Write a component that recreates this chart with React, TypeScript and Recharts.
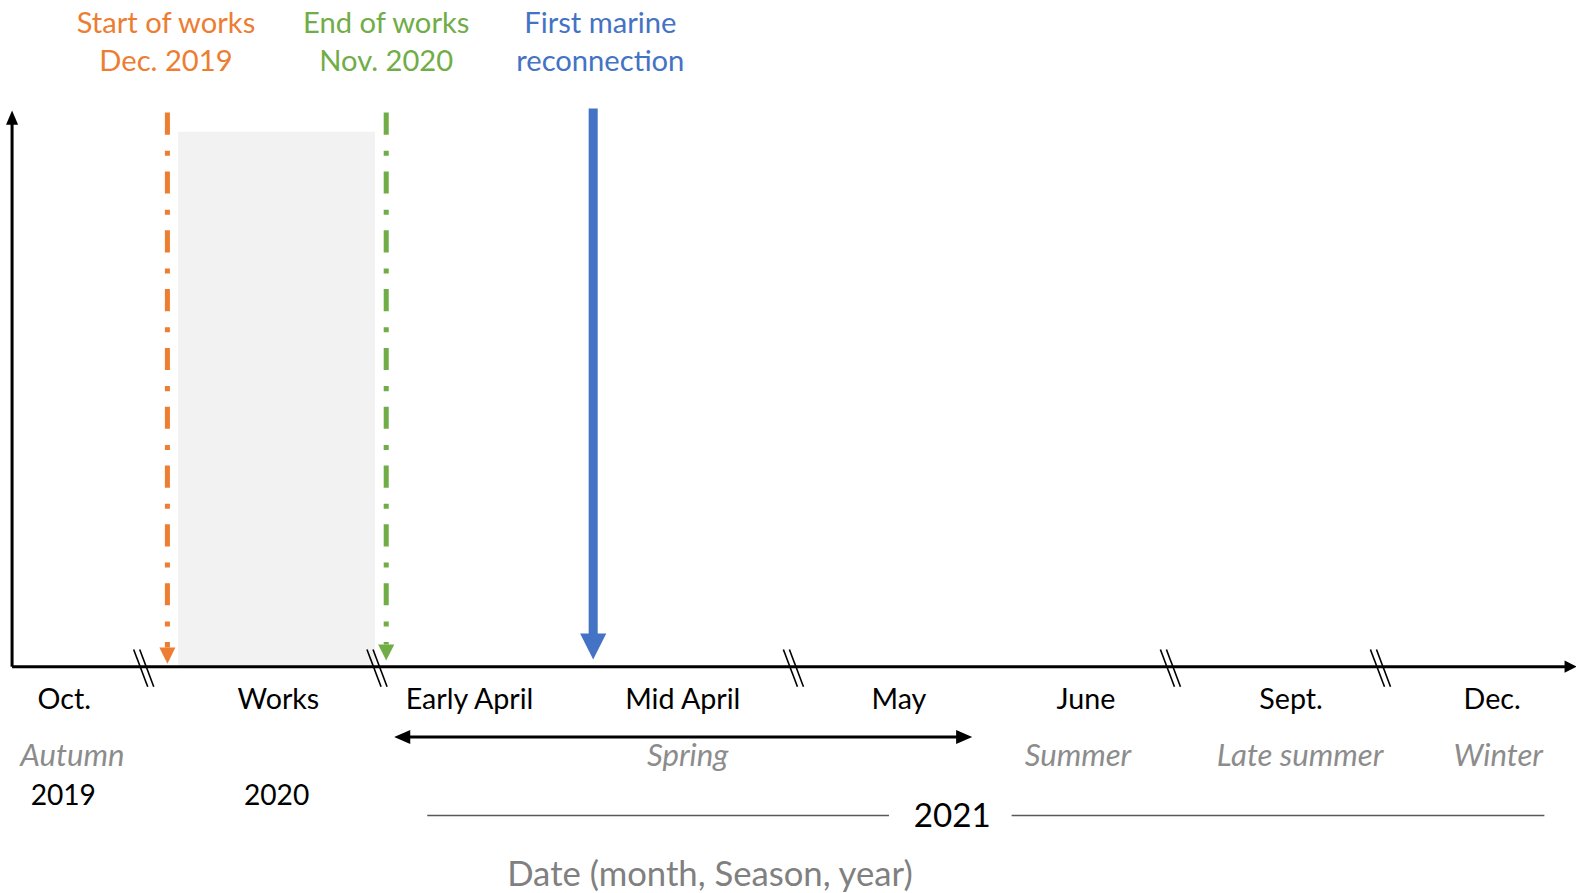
import React from 'react';
import {
  ComposedChart,
  XAxis,
  YAxis,
  ReferenceLine,
  ReferenceArea,
  ReferenceDot,
  Scatter,
} from 'recharts';

if (typeof document !== 'undefined') {
  document.body.style.margin = '0';
  document.body.style.overflow = 'hidden';
}

const W = 1576;
const H = 893;
const FIT = 1.0055;
const FONT = 'Lato, "Noto Sans", sans-serif';

// timeline categories (x in period units)
const monthLabels = ['Oct.', 'Works', 'Early April', 'Mid April', 'May', 'June', 'Sept.', 'Dec.'];
const monthPos = [0.256, 1.305, 2.241, 3.286, 4.345, 5.261, 6.266, 7.251];

const seasonLabels = ['Autumn', 'Spring', 'Summer', 'Late summer', 'Winter'];
const seasonPos = [0.296, 3.31, 5.222, 6.31, 7.281];

const yearLabels = ['2019', '2020'];
const yearPos = [0.251, 1.296];
const year2021Label = '2021';
const year2021Pos = 4.606;
const year2021Lines = [
  [2.034, 4.296],
  [4.897, 7.507],
];

const eventTitles = ['Start of works', 'End of works', 'First marine'];
const eventSubtitles = ['Dec. 2019', 'Nov. 2020', 'reconnection'];
const eventPos = [0.761, 1.833, 2.847];
const eventLabelPos = [0.754, 1.833, 2.882];
const eventColors = ['#ED7D31', '#70AD47', '#4472C4'];

const worksPeriod = [0.813, 1.778];
const breakPos = [0.645, 1.788, 3.828, 5.675, 6.704];
const springRange = [1.872, 4.704];
const axisTitle = 'Date (month, Season, year)';
const axisTitlePos = 3.419;

const X_DOMAIN = [0, 7.665];
const Y_DOMAIN = [-9, 26];

// vertical rows (y units)
const rowTitle1 = 25.68;
const rowTitle2 = 24.16;
const rowAxisTop = 22.12;
const rowEventTop = 22.04;
const rowBlueTop = 22.2;
const rowShadeTop = 21.28;
const rowArrowTips = [0.12, 0.24, 0.28];
const rowMonth = -1.24;
const rowSpring = -2.8;
const rowSeason = -3.48;
const rowYear = -5.08;
const row2021 = -5.88;
const row2021Line = -5.92;
const rowAxisTitle = -8.2;

const monthData = monthLabels.map((label, i) => ({ x: monthPos[i], y: rowMonth, label }));
const seasonData = seasonLabels.map((label, i) => ({ x: seasonPos[i], y: rowSeason, label }));
const yearData = yearLabels.map((label, i) => ({ x: yearPos[i], y: rowYear, label }));

const makeTextShape = (fill: string, size: number, italic = false) => (props: any) => {
  const { cx, cy, payload } = props;
  return (
    <text
      x={cx}
      y={cy}
      textAnchor="middle"
      dominantBaseline="central"
      fill={fill}
      fontSize={size}
      fontStyle={italic ? 'italic' : 'normal'}
      fontFamily={FONT}
    >
      {payload.label}
    </text>
  );
};

const textDot = (label: string, fill: string, size: number) => (props: any) => {
  const { cx, cy } = props;
  return (
    <text
      x={cx}
      y={cy}
      textAnchor="middle"
      dominantBaseline="central"
      fill={fill}
      fontSize={size}
      fontFamily={FONT}
    >
      {label}
    </text>
  );
};

const breakShape = (props: any) => {
  const { cx, cy } = props;
  return (
    <g stroke="#000" strokeWidth={1.6}>
      <line x1={cx - 10} y1={cy - 17} x2={cx + 4} y2={cy + 20} />
      <line x1={cx - 4} y1={cy - 17} x2={cx + 10} y2={cy + 20} />
    </g>
  );
};

const xAxisShape = (props: any) => {
  const { x1, y1, x2, y2 } = props;
  return (
    <g>
      <line x1={x1} y1={y1} x2={x2 - 6} y2={y2} stroke="#000" strokeWidth={3} />
      <polygon points={`${x2},${y2} ${x2 - 12},${y2 - 6} ${x2 - 12},${y2 + 6}`} fill="#000" />
    </g>
  );
};

const yAxisShape = (props: any) => {
  const { x1, y1, x2, y2 } = props;
  const top = Math.min(y1, y2);
  const bottom = Math.max(y1, y2);
  return (
    <g>
      <line x1={x1} y1={bottom} x2={x2} y2={top + 10} stroke="#000" strokeWidth={3} />
      <polygon points={`${x1},${top} ${x1 - 6},${top + 14} ${x1 + 6},${top + 14}`} fill="#000" />
    </g>
  );
};

const dashedArrowShape = (color: string) => (props: any) => {
  const { x1, y1, x2, y2 } = props;
  const top = Math.min(y1, y2);
  const tip = Math.max(y1, y2);
  const head = 16;
  return (
    <g>
      <line
        x1={x1}
        y1={top}
        x2={x2}
        y2={tip - head}
        stroke={color}
        strokeWidth={5}
        strokeDasharray="22 16 5 15.5"
      />
      <polygon
        points={`${x1},${tip} ${x1 - 8},${tip - head} ${x1 + 8},${tip - head}`}
        fill={color}
      />
    </g>
  );
};

const solidArrowShape = (color: string) => (props: any) => {
  const { x1, y1, x2, y2 } = props;
  const top = Math.min(y1, y2);
  const tip = Math.max(y1, y2);
  const head = 26;
  return (
    <g>
      <line x1={x1} y1={top} x2={x2} y2={tip - head + 2} stroke={color} strokeWidth={9} />
      <polygon
        points={`${x1},${tip} ${x1 - 13},${tip - head} ${x1 + 13},${tip - head}`}
        fill={color}
      />
    </g>
  );
};

const springShape = (props: any) => {
  const { x1, y1, x2 } = props;
  const y = y1;
  const a = Math.min(x1, x2);
  const b = Math.max(x1, x2);
  return (
    <g>
      <line x1={a + 10} y1={y} x2={b - 10} y2={y} stroke="#000" strokeWidth={3} />
      <polygon points={`${a},${y} ${a + 16},${y - 7} ${a + 16},${y + 7}`} fill="#000" />
      <polygon points={`${b},${y} ${b - 16},${y - 7} ${b - 16},${y + 7}`} fill="#000" />
    </g>
  );
};

export default function App() {
  return (
    <div
      style={{
        width: W,
        height: H,
        overflow: 'hidden',
        background: '#fff',
        transform: `scale(${FIT})`,
        transformOrigin: '0 0',
      }}
    >
      <ComposedChart
        width={W}
        height={H}
        data={monthData}
        margin={{ top: 13, right: 8, bottom: 5, left: 12 }}
      >
        <XAxis type="number" dataKey="x" domain={X_DOMAIN} hide allowDataOverflow />
        <YAxis type="number" dataKey="y" domain={Y_DOMAIN} hide allowDataOverflow width={0} />

        <ReferenceArea
          x1={worksPeriod[0]}
          x2={worksPeriod[1]}
          y1={0}
          y2={rowShadeTop}
          fill="#F2F2F2"
          fillOpacity={1}
          stroke="none"
        />

        {/* axes */}
        <ReferenceLine
          segment={[
            { x: X_DOMAIN[0], y: 0 },
            { x: X_DOMAIN[1], y: 0 },
          ]}
          shape={xAxisShape}
        />
        <ReferenceLine
          segment={[
            { x: X_DOMAIN[0], y: 0 },
            { x: X_DOMAIN[0], y: rowAxisTop },
          ]}
          shape={yAxisShape}
        />

        {/* events */}
        <ReferenceLine
          segment={[
            { x: eventPos[0], y: rowEventTop },
            { x: eventPos[0], y: rowArrowTips[0] },
          ]}
          shape={dashedArrowShape(eventColors[0])}
        />
        <ReferenceLine
          segment={[
            { x: eventPos[1], y: rowEventTop },
            { x: eventPos[1], y: rowArrowTips[1] },
          ]}
          shape={dashedArrowShape(eventColors[1])}
        />
        <ReferenceLine
          segment={[
            { x: eventPos[2], y: rowBlueTop },
            { x: eventPos[2], y: rowArrowTips[2] },
          ]}
          shape={solidArrowShape(eventColors[2])}
        />

        {eventTitles.map((t, i) => (
          <ReferenceDot
            key={'et' + i}
            x={eventLabelPos[i]}
            y={rowTitle1}
            r={0}
            shape={textDot(t, eventColors[i], 29)}
          />
        ))}
        {eventSubtitles.map((t, i) => (
          <ReferenceDot
            key={'es' + i}
            x={eventLabelPos[i]}
            y={rowTitle2}
            r={0}
            shape={textDot(t, eventColors[i], 29)}
          />
        ))}

        {/* axis breaks */}
        {breakPos.map((p, i) => (
          <ReferenceDot key={'b' + i} x={p} y={0} r={0} shape={breakShape} />
        ))}

        {/* spring arrow */}
        <ReferenceLine
          segment={[
            { x: springRange[0], y: rowSpring },
            { x: springRange[1], y: rowSpring },
          ]}
          shape={springShape}
        />

        {/* 2021 lines */}
        {year2021Lines.map((seg, i) => (
          <ReferenceLine
            key={'yl' + i}
            segment={[
              { x: seg[0], y: row2021Line },
              { x: seg[1], y: row2021Line },
            ]}
            stroke="#595959"
            strokeWidth={1.5}
          />
        ))}
        <ReferenceDot x={year2021Pos} y={row2021} r={0} shape={textDot(year2021Label, '#000', 33)} />

        <ReferenceDot
          x={axisTitlePos}
          y={rowAxisTitle}
          r={0}
          shape={textDot(axisTitle, '#808080', 34.5)}
        />

        <Scatter
          data={monthData}
          dataKey="y"
          isAnimationActive={false}
          shape={makeTextShape('#000', 28.5)}
        />
        <Scatter
          data={seasonData}
          dataKey="y"
          isAnimationActive={false}
          shape={makeTextShape('#8C8C8C', 31, true)}
        />
        <Scatter
          data={yearData}
          dataKey="y"
          isAnimationActive={false}
          shape={makeTextShape('#000', 28)}
        />
      </ComposedChart>
    </div>
  );
}
